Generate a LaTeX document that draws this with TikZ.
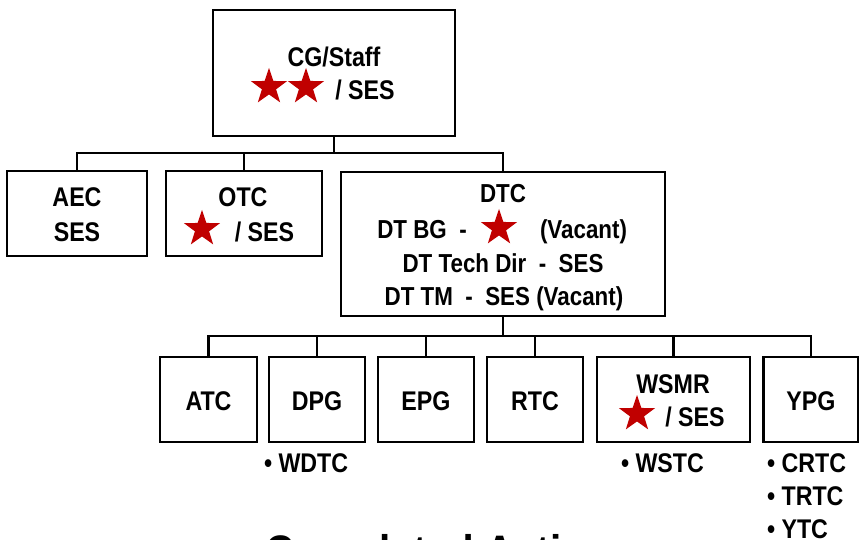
\documentclass[tikz,border=0pt]{standalone}
\usepackage{fontspec}
\setmainfont{Liberation Sans}[FakeStretch=0.86]
\usetikzlibrary{shapes.geometric}
\definecolor{starred}{HTML}{C00000}
\begin{document}
\begin{tikzpicture}[x=1pt,y=-1pt,
  box/.style={draw=black,line width=2.6pt,outer sep=0pt,inner sep=0pt,fill=white},
  conn/.style={draw=black,line width=2.6pt},
  lbl/.style={inner sep=0pt,outer sep=0pt,anchor=base,font=\bfseries\fontsize{27pt}{33pt}\selectfont},
  dlbl/.style={lbl,font=\bfseries\fontsize{26pt}{33pt}\selectfont},
  rstar/.style={star,star points=5,star point ratio=2.55,fill=starred,draw=none,inner sep=0pt,outer sep=0pt,minimum size=38pt}]
\useasboundingbox (0,0) rectangle (859,540);
\clip (0,0) rectangle (859,540);
% boxes
\node[box,minimum width=242pt,minimum height=126pt] (cg) at (334,73) {};
\node[box,minimum width=140pt,minimum height=85pt] (aec) at (77,213.5) {};
\node[box,minimum width=156pt,minimum height=85pt] (otc) at (244,213.5) {};
\node[box,minimum width=324pt,minimum height=144pt] (dtc) at (503,244) {};
\node[box,minimum width=97pt,minimum height=85pt] (atc) at (208.5,399.5) {};
\node[box,minimum width=96pt,minimum height=85pt] (dpg) at (317,399.5) {};
\node[box,minimum width=96pt,minimum height=85pt] (epg) at (426,399.5) {};
\node[box,minimum width=96pt,minimum height=85pt] (rtc) at (535,399.5) {};
\node[box,minimum width=153pt,minimum height=85pt] (wsmr) at (673.5,399.5) {};
\node[box,minimum width=95pt,minimum height=85pt] (ypg) at (811,399.5) {};
% connectors
\coordinate (b1) at (334,153);
\coordinate (b2) at (503,336);
\draw[conn] (cg.south) -- (b1);
\draw[conn] (aec.north) -- (aec.north |- b1) -- (dtc.north |- b1) -- (dtc.north);
\draw[conn] (otc.north) -- (otc.north |- b1);
\draw[conn] (dtc.south) -- (b2);
\draw[conn] (atc.north) -- (atc.north |- b2) -- (ypg.north |- b2) -- (ypg.north);
\foreach \n in {dpg,epg,rtc,wsmr} \draw[conn] (\n.north) -- (\n.north |- b2);
% CG texts
\node[lbl] (cgt) at (334,67) {CG/Staff};
\node[rstar] (cgs1) at (269,87) {};
\node[rstar] (cgs2) at (306,87) {};
\node[lbl] (cgses) at (365,100) {/ SES};
% AEC / OTC
\node[lbl] (aect) at (77,207) {AEC};
\node[lbl] (aecs) at (77,241) {SES};
\node[lbl] (otct) at (243,207) {OTC};
\node[rstar] (otcs) at (202,229) {};
\node[lbl] (otcses) at (264.5,241) {/ SES};
% DTC
\node[dlbl] (dtct) at (503,203) {DTC};
\node[dlbl] (dtbg) at (422,238) {DT BG\ \ -};
\node[rstar] (dtcs) at (499,228) {};
\node[dlbl] (dtvac) at (583.5,238) {(Vacant)};
\node[dlbl] (dttech) at (503,272) {DT Tech Dir\ \ -\ \ SES};
\node[dlbl] (dttm) at (504,305) {DT TM\ \ -\ \ SES (Vacant)};
% bottom row
\node[lbl] (atct) at (208.5,410) {ATC};
\node[lbl] (dpgt) at (317,410) {DPG};
\node[lbl] (epgt) at (426,410) {EPG};
\node[lbl] (rtct) at (535,410) {RTC};
\node[lbl] (ypgt) at (811,410) {YPG};
\node[lbl] (wsmrt) at (673,393) {WSMR};
\node[rstar] (wsmrs) at (637,414) {};
\node[lbl] (wsmrses) at (695,426) {/ SES};
% sub-lists
\node[lbl,anchor=base west] (wdtc) at (264,472) {\textbullet\ WDTC};
\node[lbl,anchor=base west] (wstc) at (621,472) {\textbullet\ WSTC};
\node[lbl,anchor=base west] (crtc) at (767,472) {\textbullet\ CRTC};
\node[lbl,anchor=base west] (trtc) at (767,505) {\textbullet\ TRTC};
\node[lbl,anchor=base west] (ytc) at (767,538) {\textbullet\ YTC};
% title (cut off by the lower edge)
\node[lbl,anchor=base west,font=\bfseries\fontsize{47pt}{55pt}\selectfont] (title) at (265,568) {Completed Action};
\end{tikzpicture}
\end{document}
